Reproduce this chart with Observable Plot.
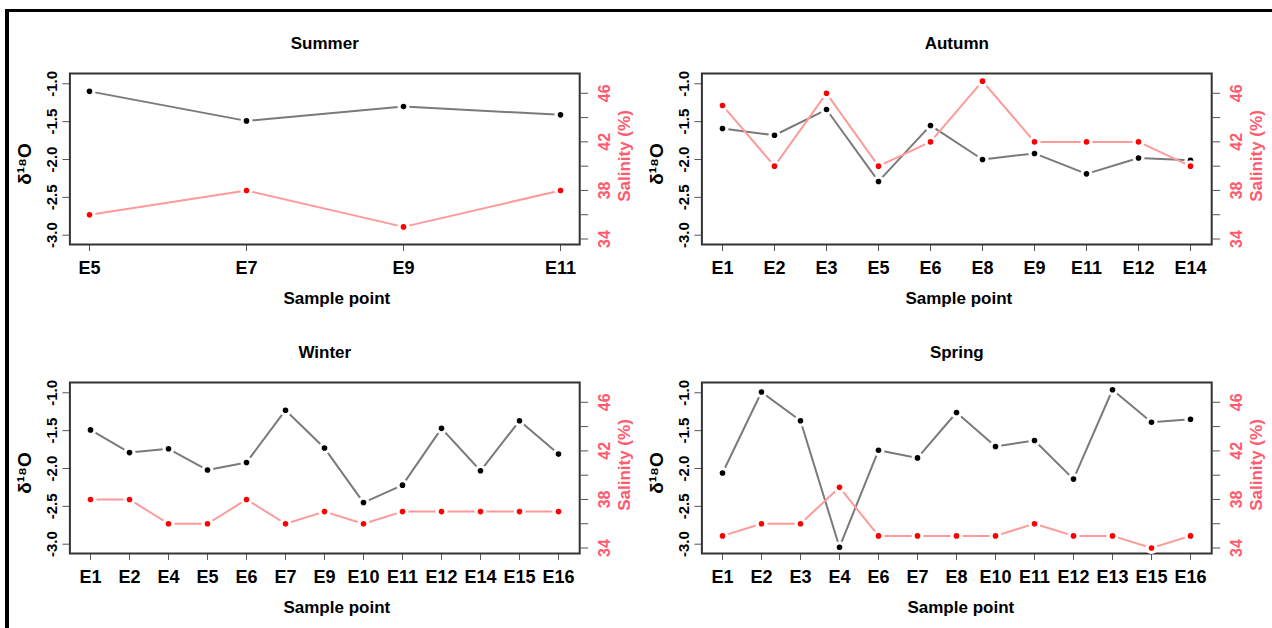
<!DOCTYPE html>
<html><head><meta charset="utf-8">
<script src="https://cdn.jsdelivr.net/npm/d3@7"></script>
<script src="https://cdn.jsdelivr.net/npm/@observablehq/plot@0.6"></script>
<style>
body{margin:0;background:#fff;font-family:"Liberation Sans",Arial,sans-serif;}
#root{position:relative;width:1272px;height:628px;overflow:hidden;background:#fff;}
.panel{position:absolute;width:632px;height:316px;}
.panel svg{position:absolute;left:0;top:0;}
#border{position:absolute;left:5px;top:9px;width:1300px;height:700px;border-top:3px solid #000;border-left:4px solid #000;}
</style></head><body><div id="root"><div id="border"></div></div>
<script>
// ---- data ----
const summerSites = ["E5","E7","E9","E11"];
const summerD18O = [-1.10,-1.49,-1.30,-1.41];
const summerSalinity = [36,38,35,38];

const autumnSites = ["E1","E2","E3","E5","E6","E8","E9","E11","E12","E14"];
const autumnD18O = [-1.59,-1.68,-1.34,-2.29,-1.55,-2.00,-1.92,-2.19,-1.98,-2.01];
const autumnSalinity = [45,40,46,40,42,47,42,42,42,40];

const winterSites = ["E1","E2","E4","E5","E6","E7","E9","E10","E11","E12","E14","E15","E16"];
const winterD18O = [-1.49,-1.79,-1.74,-2.02,-1.92,-1.23,-1.73,-2.45,-2.22,-1.47,-2.03,-1.37,-1.81];
const winterSalinity = [38,38,36,36,38,36,37,36,37,37,37,37,37];

const springSites = ["E1","E2","E3","E4","E6","E7","E8","E10","E11","E12","E13","E15","E16"];
const springD18O = [-2.06,-0.99,-1.37,-3.04,-1.76,-1.86,-1.26,-1.71,-1.63,-2.14,-0.96,-1.39,-1.35];
const springSalinity = [35,36,36,39,35,35,35,35,36,35,35,34,35];

const d18oTicks = [-3.0,-2.5,-2.0,-1.5,-1.0];
const salinityTicks = [34,36,38,40,42,44,46];
const salinityLabelled = [34,38,42,46];
const xLabel = "Sample point";
const yLabel = "δ¹⁸O";
const y2Label = "Salinity (%)";

// ---- layout ----
const W = 632, H = 316, ML = 69.4, MR = 52.8, MT = 70, MB = 75;
const FONT = "Liberation Sans, Arial, sans-serif";
const PINK = "#ff5a6e";

function panel(title, sites, d18o, sal, left, top, labelDx) {
  const data = sites.map((s, i) => ({site: s, d: d18o[i], s: sal[i]}));
  const n = sites.length;
  const common = {
    width: W, height: H, marginLeft: ML, marginRight: MR, marginTop: MT, marginBottom: MB,
    style: {fontFamily: FONT, background: "transparent", overflow: "visible"}
  };
  const xs = {type: "point", domain: sites, padding: 0.04 * (n - 1)};
  const p1 = Plot.plot({
    ...common,
    x: xs,
    y: {domain: [-3.123, -0.864]},
    marks: [
      Plot.axisY({ticks: d18oTicks, tickFormat: d => d.toFixed(1), tickRotate: -90, tickSize: 7, tickPadding: 6,
        fontSize: 15, fontWeight: "bold", stroke: "#555", fill: "#000", label: null}),
      Plot.axisX({tickSize: 7, tickPadding: 10, fontSize: 18, fontWeight: "bold", stroke: "#555", fill: "#000", label: null}),
      Plot.line(data, {x: "site", y: "d", stroke: "#7a7a7a", strokeWidth: 2}),
      Plot.dot(data, {x: "site", y: "d", r: 6, fill: "white"}),
      Plot.dot(data, {x: "site", y: "d", r: 2.8, fill: "black"}),
      Plot.frame({stroke: "#333", strokeWidth: 2}),
      Plot.text([title], {frameAnchor: "top", lineAnchor: "middle", dy: -30, fontSize: 17, fontWeight: "bold", fill: "#000"}),
      Plot.text([xLabel], {frameAnchor: "bottom", lineAnchor: "middle", dy: 54, dx: labelDx, fontSize: 17, fontWeight: "bold", fill: "#000"}),
      Plot.text([yLabel], {frameAnchor: "left", textAnchor: "middle", lineAnchor: "middle", dx: -44.5, dy: 5, rotate: -90, fontSize: 19, fontWeight: "bold", fill: "#000"})
    ]
  });
  const p2 = Plot.plot({
    ...common,
    x: {...xs, axis: null},
    y: {domain: [33.55, 47.63]},
    marks: [
      Plot.axisY({anchor: "right", ticks: salinityTicks, tickFormat: d => salinityLabelled.includes(d) ? String(d) : "",
        tickRotate: -90, lineAnchor: "top", textAnchor: "middle", tickSize: 8, tickPadding: 11, fontSize: 16, fontWeight: "bold",
        stroke: "#555", fill: PINK, label: null}),
      Plot.line(data, {x: "site", y: "s", stroke: "#ff9a9a", strokeWidth: 2}),
      Plot.dot(data, {x: "site", y: "s", r: 6, fill: "white"}),
      Plot.dot(data, {x: "site", y: "s", r: 2.8, fill: "#ff0000"}),
      Plot.text([y2Label], {frameAnchor: "right", textAnchor: "middle", lineAnchor: "middle", dx: 45, dy: -3, rotate: -90, fontSize: 17, fontWeight: "bold", fill: PINK})
    ]
  });
  const div = document.createElement("div");
  div.className = "panel";
  div.style.left = left + "px";
  div.style.top = top + "px";
  div.appendChild(p1);
  div.appendChild(p2);
  document.getElementById("root").appendChild(div);
}

panel("Summer", summerSites, summerD18O, summerSalinity, 0, 3, 12);
panel("Autumn", autumnSites, autumnD18O, autumnSalinity, 632, 3, 2);
panel("Winter", winterSites, winterD18O, winterSalinity, 0, 311.5, 12);
panel("Spring", springSites, springD18O, springSalinity, 632, 311.5, 4);
</script></body></html>
